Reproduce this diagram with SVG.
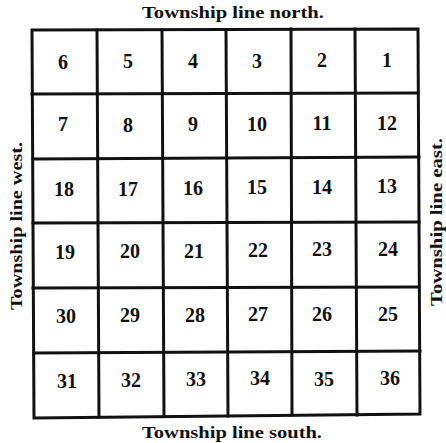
<svg xmlns="http://www.w3.org/2000/svg" width="446" height="443" viewBox="0 0 446 443">
<style>
.lbl{font-family:"Liberation Serif","DejaVu Serif",serif;font-weight:bold;font-size:17px;fill:#111;text-anchor:middle}
.num{font-family:"Liberation Serif","DejaVu Serif",serif;font-weight:bold;font-size:20px;fill:#111;text-anchor:middle}
.ln{stroke:#111;stroke-width:3;fill:none;stroke-linecap:square}
</style>
<rect width="446" height="443" fill="#fff"/>
<g id="labels">
<text class="lbl" x="233" y="18" textLength="182" lengthAdjust="spacingAndGlyphs">Township line north.</text>
<text class="lbl" x="232" y="438" textLength="180" lengthAdjust="spacingAndGlyphs">Township line south.</text>
<text class="lbl" transform="translate(22,226) rotate(-90)" textLength="168" lengthAdjust="spacingAndGlyphs">Township line west.</text>
<text class="lbl" transform="translate(442,222) rotate(-90)" textLength="168" lengthAdjust="spacingAndGlyphs">Township line east.</text>
</g>
<g id="grid">
<path class="ln" d="M32,30 L418,29 L420,414 L34,418 Z"/>
<path class="ln" d="M97,30 L99,417 M162,30 L164,416 M226,30 L228,416 M291,29 L292,415 M355,29 L357,415"/>
<path class="ln" d="M32,94 L418,93 M33,159 L419,157 M33,223 L419,222 M33,288 L419,287 M34,353 L420,351"/>
</g>
<g id="numbers">
<text class="num" x="63" y="69">6</text><text class="num" x="128" y="68">5</text><text class="num" x="193" y="68">4</text><text class="num" x="257" y="68">3</text><text class="num" x="322" y="67">2</text><text class="num" x="387" y="67">1</text>
<text class="num" x="63" y="131">7</text><text class="num" x="128" y="132">8</text><text class="num" x="193" y="131">9</text><text class="num" x="257" y="131">10</text><text class="num" x="322" y="130">11</text><text class="num" x="387" y="130">12</text>
<text class="num" x="64" y="196">18</text><text class="num" x="128" y="196">17</text><text class="num" x="193" y="195">16</text><text class="num" x="257" y="194">15</text><text class="num" x="322" y="194">14</text><text class="num" x="387" y="193">13</text>
<text class="num" x="65" y="259">19</text><text class="num" x="130" y="258">20</text><text class="num" x="194" y="258">21</text><text class="num" x="258" y="257">22</text><text class="num" x="322" y="256">23</text><text class="num" x="388" y="256">24</text>
<text class="num" x="66" y="323">30</text><text class="num" x="130" y="322">29</text><text class="num" x="195" y="322">28</text><text class="num" x="258" y="321">27</text><text class="num" x="322" y="321">26</text><text class="num" x="388" y="321">25</text>
<text class="num" x="67" y="388">31</text><text class="num" x="131" y="387">32</text><text class="num" x="196" y="386">33</text><text class="num" x="260" y="385">34</text><text class="num" x="324" y="386">35</text><text class="num" x="390" y="385">36</text>
</g>
</svg>
